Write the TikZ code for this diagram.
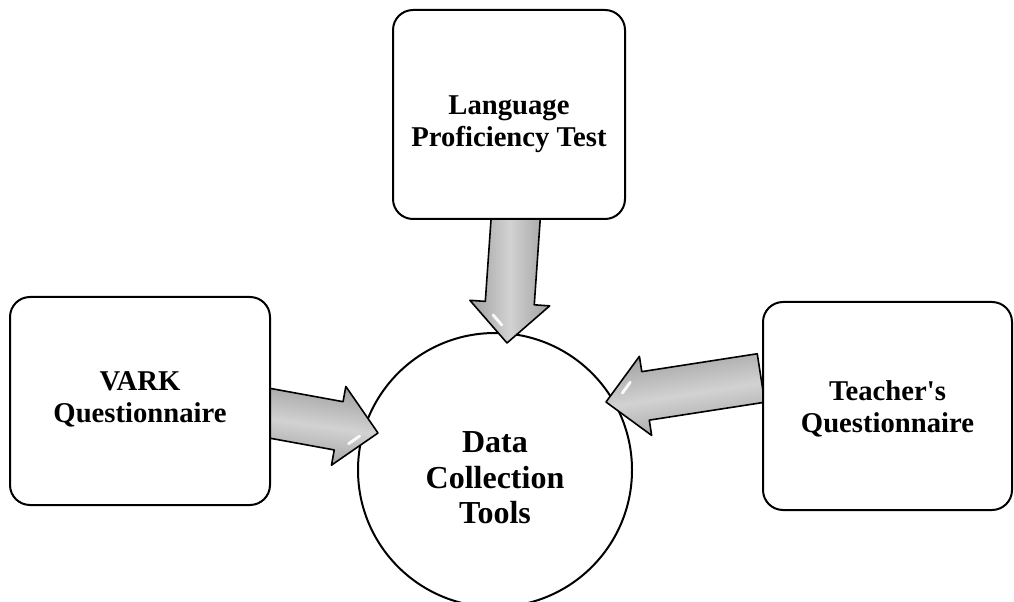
\documentclass[tikz,border=0pt]{standalone}
\usepackage{fontspec}
\setmainfont{Liberation Serif}
\usetikzlibrary{calc, positioning}
\definecolor{arrowgray}{RGB}{160,160,160}
\definecolor{arrowlight}{RGB}{210,210,210}
\pgfdeclarelayer{bg}
\pgfsetlayers{bg,main}

% fat block arrow: tail, tip, shading angle
\newcommand{\fatarrow}[3]{%
  \coordinate (hb) at ($(#2)!30pt!(#1)$);
  \coordinate (hc) at ($(hb)!30pt!-90:(#2)$);
  \shade[draw=black, line width=1.2pt, line join=round,
    top color=arrowgray, bottom color=arrowgray, middle color=arrowlight, shading angle=#3]
    ($(#1)!18.4pt!90:(#2)$) -- ($(hb)!18.4pt!90:(#2)$) -- ($(hb)!30pt!90:(#2)$) -- (#2)
    -- (hc) -- ($(hb)!18.4pt!-90:(#2)$) -- ($(#1)!18.4pt!-90:(#2)$) -- cycle;
  \draw[white, line width=2.2pt, line cap=round, opacity=0.9]
    ($(#2)!0.22!(hc)!0.28!(hb)$) -- ($(#2)!0.55!(hc)!0.28!(hb)$);
}

\tikzset{
  toolbox/.style={draw, line width=1.5pt, rounded corners=15pt, fill=white, inner sep=0pt},
  boxtext/.style={align=center, inner sep=0pt, font=\fontsize{21.5}{24}\selectfont\bfseries},
  hub/.style={circle, draw, line width=1.5pt, fill=white, minimum size=205.5pt, inner sep=0pt},
  hubtext/.style={align=center, inner sep=0pt, font=\fontsize{24}{26.5}\selectfont\bfseries}
}

\begin{document}
\begin{tikzpicture}[x=0.75pt, y=-0.75pt]
    \useasboundingbox (0,0) rectangle (1014,602);
    % the three sources
    \node[toolbox, minimum width=174pt, minimum height=156.75pt] (lpt) at (509,114.5) {};
    \node[toolbox, minimum width=195pt, minimum height=156pt] (vark) at (140,401) {};
    \node[toolbox, minimum width=186.75pt, minimum height=156pt] (tq) at (887.5,406) {};
    \node[boxtext] (lpttext) at ($(lpt.center)+(0,10)$) {Language\\Proficiency Test};
    \node[boxtext] (varktext) at ($(vark.center)+(0,-2)$) {VARK\\Questionnaire};
    \node[boxtext] (tqtext) at ($(tq.center)+(0,3)$) {Teacher\textquotesingle s\\Questionnaire};

    \begin{pgfonlayer}{bg}
        % centre
        \node[hub] (dct) at (495,470) {};
        \node[hubtext] (dcttext) at ($(dct.center)+(0,8)$) {Data\\Collection\\Tools};
        % arrow tips, inside the circle
        \coordinate (tipL) at ($(dct.center)+(-117,-37)$);
        \coordinate (tipT) at ($(dct.center)+(12,-127)$);
        \coordinate (tipR) at ($(dct.center)+(111,-68)$);

        \fatarrow{$(vark.east)+(-8,11)$}{tipL}{-8}
        \fatarrow{$(lpt.south)+(7,-6)$}{tipT}{90}
        \fatarrow{$(tq.west)+(-1,-28)$}{tipR}{9}
    \end{pgfonlayer}
\end{tikzpicture}
\end{document}
